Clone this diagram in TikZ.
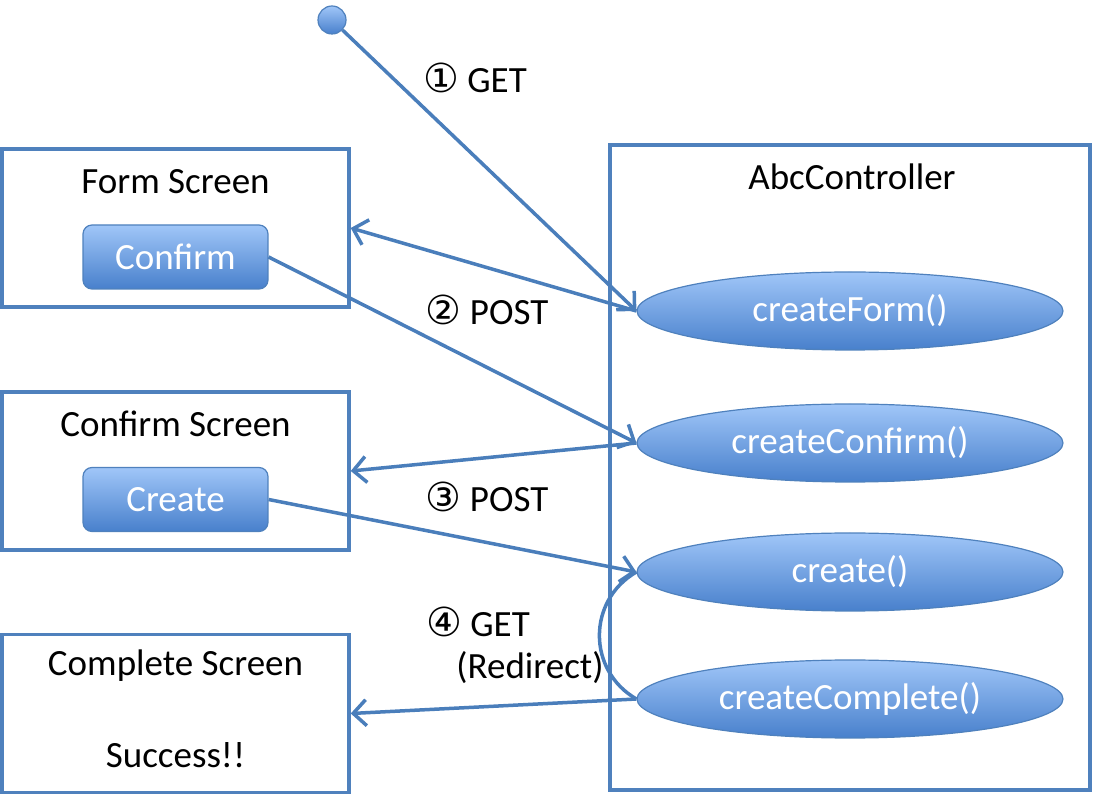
\documentclass[tikz,border=0pt]{standalone}
\usepackage{fontspec}
\setmainfont{Carlito}
\newfontfamily\circfont{DejaVu Sans}
\definecolor{officeblue}{HTML}{4F81BD}
\definecolor{arrowblue}{HTML}{4A7EBB}
\definecolor{shadetop}{HTML}{A0C6F8}
\definecolor{shadebot}{HTML}{4880CC}
\usetikzlibrary{arrows.meta,shapes.geometric}

\begin{document}
\begin{tikzpicture}[x=1pt, y=1pt, font=\fontsize{37}{44}\selectfont,
  screen/.style={draw=officeblue, line width=3.5pt, minimum width=347pt, minimum height=158pt, inner sep=0pt},
  button/.style={draw=officeblue, line width=1.2pt, rounded corners=9pt, top color=shadetop, bottom color=shadebot, text=white, minimum width=185pt, minimum height=64pt, inner sep=0pt},
  method/.style={ellipse, draw=officeblue, line width=1.2pt, top color=shadetop, bottom color=shadebot, text=white, minimum width=426pt, minimum height=78pt, inner sep=0pt},
  call/.style={draw=arrowblue, line width=3.5pt, -{Straight Barb[length=13pt,width=26pt,line width=3.5pt]}}]
\useasboundingbox (0,0) rectangle (1098,801);

% Screens on the left
\node[screen] (form) at (175.5,573) {};
\node (formtitle) at (175.5,619) {Form Screen};
\node[button] (confirmbtn) at (175.5,544) {Confirm};

\node[screen] (confirm) at (175.5,330) {};
\node (confirmtitle) at (175.5,377) {Confirm Screen};
\node[button] (createbtn) at (175.5,301.5) {Create};

\node[screen] (complete) at (175.5,87.5) {};
\node (completetitle) at (175.5,135) {Complete Screen};
\node (success) at (175.5,46) {Success!!};

% Controller on the right
\node[screen, minimum width=480pt, minimum height=645pt] (ctrl) at (850,333.5) {};
\node (ctrltitle) at (852,624) {AbcController};
\node[method] (cform) at (850,490) {createForm()};
\node[method] (cconfirm) at (850,358) {createConfirm()};
\node[method] (ccreate) at (850,229) {create()};
\node[method] (ccomplete) at (850,102) {createComplete()};

% Start point
\node[circle, draw=officeblue, line width=1.2pt, top color=shadetop, bottom color=shadebot, minimum size=28pt, inner sep=0pt] (start) at (332,781) {};

% Requests and responses
\draw[call] (start) -- (cform.west);
\draw[call] (cform.west) -- (form.east);
\draw[call] (confirmbtn.east) -- (cconfirm.west);
\draw[call] (cconfirm.west) -- (confirm.east);
\draw[call] (createbtn.east) -- (ccreate.west);
\draw[call] (ccomplete.west) -- (complete.east);
\draw[draw=arrowblue, line width=3.5pt] (ccreate.west) to[out=210,in=150,looseness=1.15] (ccomplete.west);

% Labels
\node (get1) at (475,723) {{\circfont\fontsize{40}{44}\selectfont ①}~GET};
\node (post2) at (487,491) {{\circfont\fontsize{40}{44}\selectfont ②}~POST};
\node (post3) at (487,304) {{\circfont\fontsize{40}{44}\selectfont ③}~POST};
\node (get4) at (478,179) {{\circfont\fontsize{40}{44}\selectfont ④}~GET};
\node (redirect) at (530,133) {(Redirect)};
\end{tikzpicture}
\end{document}
